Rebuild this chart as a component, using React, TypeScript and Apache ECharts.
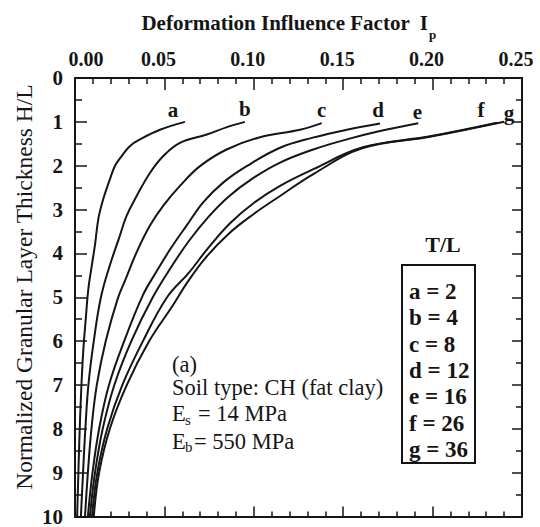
import React, { useEffect, useRef } from "react";
import * as echarts from "echarts";

// ---- data ----
const curveNames = ["a", "b", "c", "d", "e", "f", "g"];
const tOverL = [2, 4, 8, 12, 16, 26, 36];
const xTickLabels = ["0.00", "0.05", "0.10", "0.15", "0.20", "0.25"];

// [Ip, H/L] pairs, from the top end (H/L≈1) down to H/L=10
const curveA = [[0.0615,1.0],[0.0475,1.18],[0.0364,1.4],[0.0308,1.55],[0.0261,1.78],[0.0224,2.0],[0.0196,2.3],[0.0158,2.76],[0.0131,3.2],[0.0112,3.8],[0.0093,4.3],[0.0075,4.8],[0.006,5.5],[0.0045,6.3],[0.0034,7.2],[0.0024,8.3],[0.0012,10]];
const curveB = [[0.095,1.0],[0.085,1.12],[0.0737,1.29],[0.0587,1.48],[0.0494,1.78],[0.042,2.16],[0.0345,2.69],[0.0289,3.14],[0.0245,3.67],[0.0195,4.27],[0.0145,5.0],[0.0105,6.0],[0.0075,7.0],[0.0058,8.0],[0.0045,9.0],[0.0033,10]];
const curveC = [[0.138,1.03],[0.1258,1.18],[0.1035,1.35],[0.0848,1.63],[0.0699,2.01],[0.0587,2.46],[0.0494,2.91],[0.042,3.36],[0.0345,3.97],[0.0285,4.57],[0.024,5.02],[0.0172,6.0],[0.0122,7.0],[0.0092,8.0],[0.0072,9.0],[0.0056,10]];
const curveD = [[0.1706,1.04],[0.152,1.18],[0.133,1.36],[0.1147,1.59],[0.096,2.01],[0.083,2.38],[0.0718,2.83],[0.0625,3.36],[0.0535,3.89],[0.0455,4.42],[0.038,4.95],[0.0275,6.0],[0.019,7.0],[0.0135,8.0],[0.0098,9.0],[0.0072,10]];
const curveE = [[0.192,1.03],[0.1706,1.21],[0.152,1.4],[0.1333,1.63],[0.1147,1.93],[0.099,2.3],[0.086,2.7],[0.075,3.15],[0.064,3.7],[0.054,4.3],[0.0435,5.0],[0.0315,6.0],[0.022,7.0],[0.0155,8.0],[0.0112,9.0],[0.0083,10]];
const curveF = [[0.236,1.02],[0.1985,1.33],[0.161,1.58],[0.1333,2.08],[0.1147,2.46],[0.1,2.85],[0.087,3.3],[0.075,3.85],[0.0635,4.45],[0.0515,5.0],[0.038,6.0],[0.0265,7.0],[0.018,8.0],[0.0125,9.0],[0.0095,10]];
const curveG = [[0.24,1.0],[0.1985,1.34],[0.161,1.6],[0.1333,2.19],[0.1147,2.69],[0.1,3.1],[0.086,3.55],[0.073,4.1],[0.063,4.65],[0.0545,5.2],[0.0415,6.0],[0.029,7.0],[0.0195,8.0],[0.0135,9.0],[0.0105,10]];
const curves = [curveA, curveB, curveC, curveD, curveE, curveF, curveG];

const xMin = 0, xMax = 0.25, xStep = 0.05;
const yMin = 0, yMax = 10, yStep = 1;

// ---- style ----
const FONT = "'Liberation Serif', 'Times New Roman', serif";
const INK = "#151515";
const labelOffsets: [number, number][] = [[-12, -12], [0, -13], [0, -13], [-2, -14], [-1, -11], [-16, -13], [5, -9]];

export default function App() {
  const ref = useRef<HTMLDivElement>(null);
  useEffect(() => {
    if (!ref.current) return;
    const chart = echarts.init(ref.current, undefined, { renderer: "svg" });
    const axisCommon = {
      type: "value" as const,
      axisLine: { show: true, onZero: false, lineStyle: { color: INK, width: 2 } },
      splitLine: { show: false },
    };
    const series: any[] = curves.map((c, i) => ({
      type: "line",
      name: curveNames[i],
      data: c,
      smooth: 0.4,
      symbol: "none",
      lineStyle: { color: INK, width: 2 },
      markPoint: {
        symbol: "circle",
        symbolSize: 0,
        data: [{ coord: c[0], value: curveNames[i] }],
        label: {
          show: true,
          formatter: curveNames[i],
          position: "inside",
          offset: labelOffsets[i],
          color: INK,
          fontFamily: FONT,
          fontSize: 21,
          fontWeight: "bold",
        },
      },
    }));

    const legendLines = curveNames.map((n, i) => ({
      type: "text",
      left: 409,
      top: 280 + i * 26.3,
      style: { text: `${n} = ${tOverL[i]}`, font: `bold 23px ${FONT}`, fill: INK },
    }));

    const graphic: any[] = [
      {
        type: "text",
        x: 428, y: 23,
        style: { text: "Deformation Influence Factor  I", font: `bold 21px ${FONT}`, fill: INK, textAlign: "right", textVerticalAlign: "middle" },
      },
      { type: "text", x: 429, y: 34, style: { text: "p", font: `bold 13px ${FONT}`, fill: INK, textAlign: "left", textVerticalAlign: "middle" } },
      {
        type: "text",
        x: 24, y: 287, rotation: Math.PI / 2,
        style: { text: "Normalized Granular Layer Thickness H/L", font: `23.5px ${FONT}`, fill: INK, textAlign: "center", textVerticalAlign: "middle" },
      },
      { type: "text", x: 172, y: 364, style: { text: "(a)", font: `22.5px ${FONT}`, fill: INK, textVerticalAlign: "middle" } },
      { type: "text", x: 172, y: 387, style: { text: "Soil type: CH (fat clay)", font: `22.5px ${FONT}`, fill: INK, textVerticalAlign: "middle" } },
      { type: "text", x: 172, y: 413, style: { text: "E", font: `22.5px ${FONT}`, fill: INK, textVerticalAlign: "middle" } },
      { type: "text", x: 185, y: 420, style: { text: "s", font: `15px ${FONT}`, fill: INK, textVerticalAlign: "middle" } },
      { type: "text", x: 198, y: 413, style: { text: "= 14 MPa", font: `22.5px ${FONT}`, fill: INK, textVerticalAlign: "middle" } },
      { type: "text", x: 172, y: 441, style: { text: "E", font: `22.5px ${FONT}`, fill: INK, textVerticalAlign: "middle" } },
      { type: "text", x: 185, y: 447, style: { text: "b", font: `15px ${FONT}`, fill: INK, textVerticalAlign: "middle" } },
      { type: "text", x: 194, y: 441, style: { text: "= 550 MPa", font: `22.5px ${FONT}`, fill: INK, textVerticalAlign: "middle" } },
      { type: "text", x: 443, y: 244, style: { text: "T/L", font: `bold 22px ${FONT}`, fill: INK, textAlign: "center", textVerticalAlign: "middle" } },
      { type: "rect", shape: { x: 402, y: 265, width: 73, height: 198 }, style: { fill: "none", stroke: INK, lineWidth: 2 } },
      ...legendLines,
    ];

    chart.setOption({
      animation: false,
      backgroundColor: "#ffffff",
      grid: { left: 75, right: 18, top: 78, bottom: 7, containLabel: false },
      xAxis: [
        {
          ...axisCommon,
          position: "top",
          min: xMin, max: xMax, interval: xStep,
          axisTick: { show: true, inside: true, length: 12, lineStyle: { color: INK, width: 1.5 } },
          minorTick: { show: true, splitNumber: 5, length: 6, lineStyle: { color: INK, width: 1.5 } },
          axisLabel: {
            show: true, margin: 9, color: INK, fontFamily: FONT, fontSize: 20, fontWeight: "bold",
            formatter: (v: number) => {
              const k = Math.round(v / xStep);
              const t = xTickLabels[k] ?? v.toFixed(2);
              return k === 0 ? `{r|${t}}` : `{l|${t}}`;
            },
            rich: {
              r: { padding: [0, 0, 0, 22], fontFamily: FONT, fontSize: 20, fontWeight: "bold", color: INK },
              l: { padding: [0, 12, 0, 0], fontFamily: FONT, fontSize: 20, fontWeight: "bold", color: INK },
            },
          },
        },
        {
          ...axisCommon,
          position: "bottom",
          min: xMin, max: xMax, interval: xStep,
          axisTick: { show: true, inside: true, length: 10, lineStyle: { color: INK, width: 1.5 } },
          minorTick: { show: true, splitNumber: 5, length: 5, lineStyle: { color: INK, width: 1.5 } },
          axisLabel: { show: false },
        },
      ],
      yAxis: [
        {
          ...axisCommon,
          position: "left",
          inverse: true,
          min: yMin, max: yMax, interval: yStep,
          axisTick: { show: true, inside: true, length: 12, lineStyle: { color: INK, width: 1.5 } },
          minorTick: { show: true, splitNumber: 2, length: 7, lineStyle: { color: INK, width: 1.5 } },
          axisLabel: { show: true, margin: 12, color: INK, fontFamily: FONT, fontSize: 21, fontWeight: "bold" },
        },
        {
          ...axisCommon,
          position: "right",
          inverse: true,
          min: yMin, max: yMax, interval: yStep,
          axisTick: { show: true, inside: true, length: 10, lineStyle: { color: INK, width: 1.5 } },
          minorTick: { show: true, splitNumber: 2, length: 6, lineStyle: { color: INK, width: 1.5 } },
          axisLabel: { show: false },
        },
      ],
      series,
      graphic,
    });
    return () => chart.dispose();
  }, []);
  return <div ref={ref} style={{ width: 540, height: 527, position: "absolute", left: 0, top: 0 }} />;
}
